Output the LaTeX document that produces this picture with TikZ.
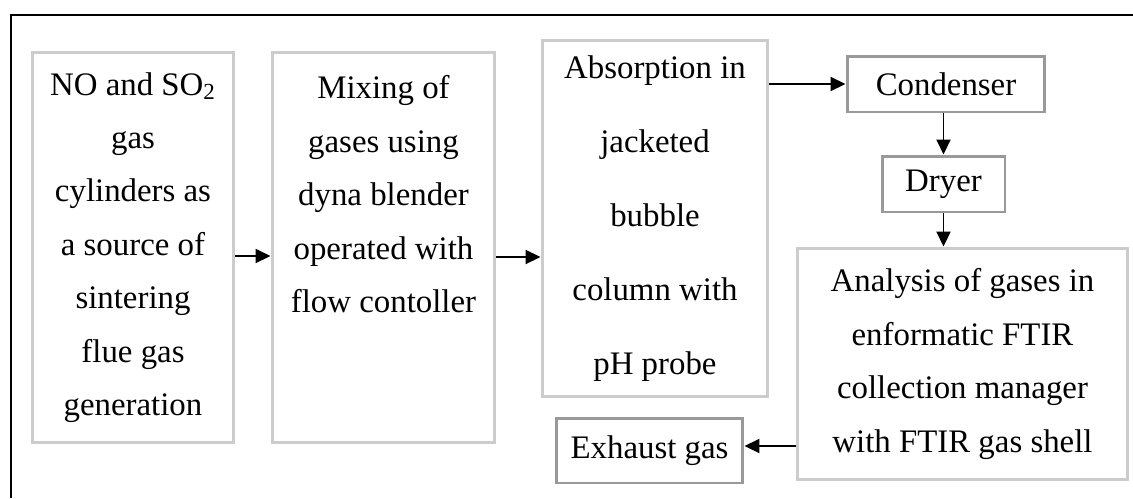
\documentclass[tikz,border=0pt]{standalone}
\usepackage{fontspec}
\setmainfont{Liberation Serif}
\usetikzlibrary{arrows.meta}
\tikzset{
  big/.style={draw=gray!40, line width=1.7pt, rectangle, inner sep=0pt, align=center,
    font=\fontsize{18.7pt}{30.4pt}\selectfont},
  small/.style={draw=gray!80, line width=1.7pt, rectangle, inner sep=0pt, align=center,
    font=\fontsize{18.7pt}{30.4pt}\selectfont},
  arr/.style={line width=1.1pt, -{Triangle[length=0.3cm,width=0.28cm]}},
  frame/.style={line width=1.2pt}
}
\begin{document}
\begin{tikzpicture}[x=0.02cm,y=-0.02cm]
\useasboundingbox (0,0) rectangle (1133,498);
\coordinate (ftl) at (11,15);
\coordinate (ftr) at (1133,15);
\coordinate (fbl) at (11,498);
\draw[frame] (ftr) -- (ftl) -- (fbl);

\node[big, minimum width=4.04cm, minimum height=7.82cm] (b1) at (133,247.5)
  {NO and SO\textsubscript{2}\\gas\\cylinders as\\a source of\\sintering\\flue gas\\generation};
\node[big, minimum width=4.46cm, minimum height=7.82cm] (b2) at (383.5,247.5)
  {Mixing of\\gases using\\dyna blender\\operated with\\flow contoller\\\mbox{}\\\mbox{}};
\node[big, minimum width=4.52cm, minimum height=7.14cm,
  font=\fontsize{18.7pt}{42.1pt}\selectfont] (b3) at (655,218.5)
  {Absorption in\\jacketed\\bubble\\column with\\pH probe};
\node[small, minimum width=3.96cm, minimum height=1.12cm] (cond) at (946,84) {Condenser};
\node[small, minimum width=2.46cm, minimum height=1.12cm] (dry) at (943.5,184) {Dryer};
\node[big, minimum width=6.62cm, minimum height=4.64cm] (ana) at (962.5,364)
  {Analysis of gases in\\enformatic FTIR\\collection manager\\with FTIR gas shell};
\node[small, minimum width=3.74cm, minimum height=1.3cm] (exh) at (649.5,450.5) {Exhaust gas};

\draw[arr] (b1.east |- 0,256) -- (b2.west |- 0,256);
\draw[arr] (b2.east |- 0,257) -- (b3.west |- 0,257);
\draw[arr] (b3.east |- cond.west) -- (cond.west);
\draw[arr] (cond.south -| dry.north) -- (dry.north);
\draw[arr] (dry.south) -- (ana.north -| dry.south);
\draw[arr] (ana.west |- 0,446) -- (exh.east |- 0,446);
\end{tikzpicture}
\end{document}
